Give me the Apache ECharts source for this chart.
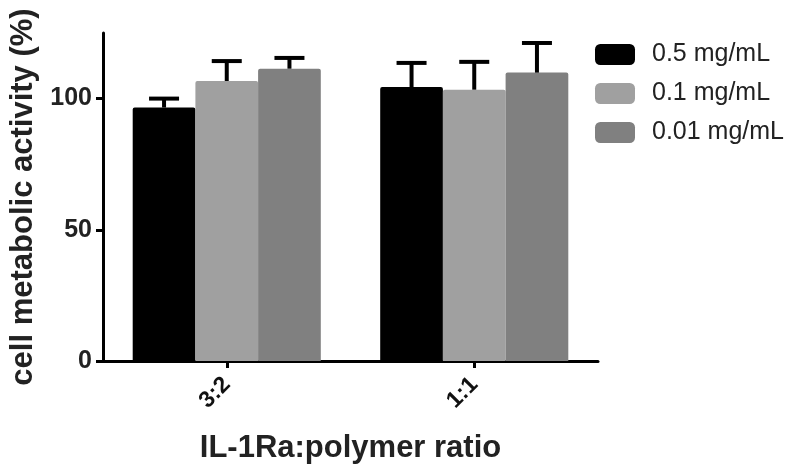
<!DOCTYPE html>
<html>
<head>
<meta charset="utf-8">
<script src="https://cdn.jsdelivr.net/npm/echarts@6/dist/echarts.min.js"></script>
<style>html,body{margin:0;padding:0;background:#fff;}#c{width:800px;height:473px;}</style>
</head>
<body>
<div id="c"></div>
<script>
var categories = ['3:2', '1:1'];
var seriesNames = ['0.5 mg/mL', '0.1 mg/mL', '0.01 mg/mL'];
var mean05 = [96.6, 104.4];
var mean01 = [106.7, 103.4];
var mean001 = [111.4, 109.9];
var err05 = [3.4, 9.2];
var err01 = [7.6, 10.6];
var err001 = [4.1, 11.3];
var yTicks = [0, 50, 100];
var colors = ['#000000', '#a0a0a0', '#808080'];

var means = [mean05, mean01, mean001];
var errs = [err05, err01, err001];
var FONT = '"Liberation Sans", Arial, Helvetica, sans-serif';
var CAT_GAP = 0.24;

var chart = echarts.init(document.getElementById('c'), null, {renderer: 'canvas'});

var series = [];
means.forEach(function (m, i) {
  series.push({
    name: seriesNames[i],
    type: 'bar',
    data: m,
    barGap: '0%',
    barCategoryGap: (CAT_GAP * 100) + '%',
    itemStyle: {color: colors[i], borderRadius: [2, 2, 0, 0]},
    z: 2
  });
});
means.forEach(function (m, i) {
  var d = m.map(function (v, k) { return [k, v, v + errs[i][k]]; });
  series.push({
    name: 'err' + i,
    type: 'custom',
    data: d,
    encode: {x: 0, y: [1, 2]},
    z: 5,
    renderItem: function (params, api) {
      var k = api.value(0);
      var band = api.size([1, 0])[0];
      var bw = band * (1 - CAT_GAP) / 3;
      var c0 = api.coord([k, api.value(1)]);
      var c1 = api.coord([k, api.value(2)]);
      var x = c0[0] + (i - 1) * bw;
      var half = 15;
      var st = {stroke: '#000', lineWidth: 4};
      return {
        type: 'group',
        children: [
          {type: 'line', shape: {x1: x, y1: c0[1], x2: x, y2: c1[1]}, style: st},
          {type: 'line', shape: {x1: x - half, y1: c1[1], x2: x + half, y2: c1[1]}, style: st}
        ]
      };
    }
  });
});

chart.setOption({
  animation: false,
  backgroundColor: '#fff',
  grid: {left: 102, right: 202, top: 33, bottom: 112, containLabel: false},
  legend: {
    data: seriesNames,
    orient: 'vertical',
    left: 595,
    top: 42,
    padding: 0,
    itemWidth: 40,
    itemHeight: 21,
    itemGap: 14,
    icon: 'roundRect',
    textStyle: {fontFamily: FONT, fontSize: 25, color: '#222', padding: [0, 0, 0, 12]}
  },
  xAxis: {
    type: 'category',
    data: categories,
    name: 'IL-1Ra:polymer ratio',
    nameLocation: 'middle',
    nameGap: 72,
    nameTextStyle: {fontFamily: FONT, fontSize: 31, fontWeight: 'bold', color: '#222'},
    axisLine: {lineStyle: {color: '#000', width: 3}},
    axisTick: {show: true, alignWithLabel: true, length: 7, lineStyle: {color: '#000', width: 3}},
    axisLabel: {rotate: 45, fontFamily: FONT, fontSize: 23, fontWeight: 'bold', color: '#111', margin: 20}
  },
  yAxis: {
    type: 'value',
    min: 0,
    max: 125,
    interval: 50,
    name: 'cell metabolic activity (%)',
    nameLocation: 'middle',
    nameGap: 64,
    nameTextStyle: {fontFamily: FONT, fontSize: 31, fontWeight: 'bold', color: '#222'},
    axisLine: {show: true, lineStyle: {color: '#000', width: 3}},
    axisTick: {show: true, length: 7, lineStyle: {color: '#000', width: 3}, customValues: yTicks},
    axisLabel: {fontFamily: FONT, fontSize: 25, fontWeight: 'bold', color: '#222', margin: 11, customValues: yTicks},
    splitLine: {show: false}
  },
  series: series
});
</script>
</body>
</html>
